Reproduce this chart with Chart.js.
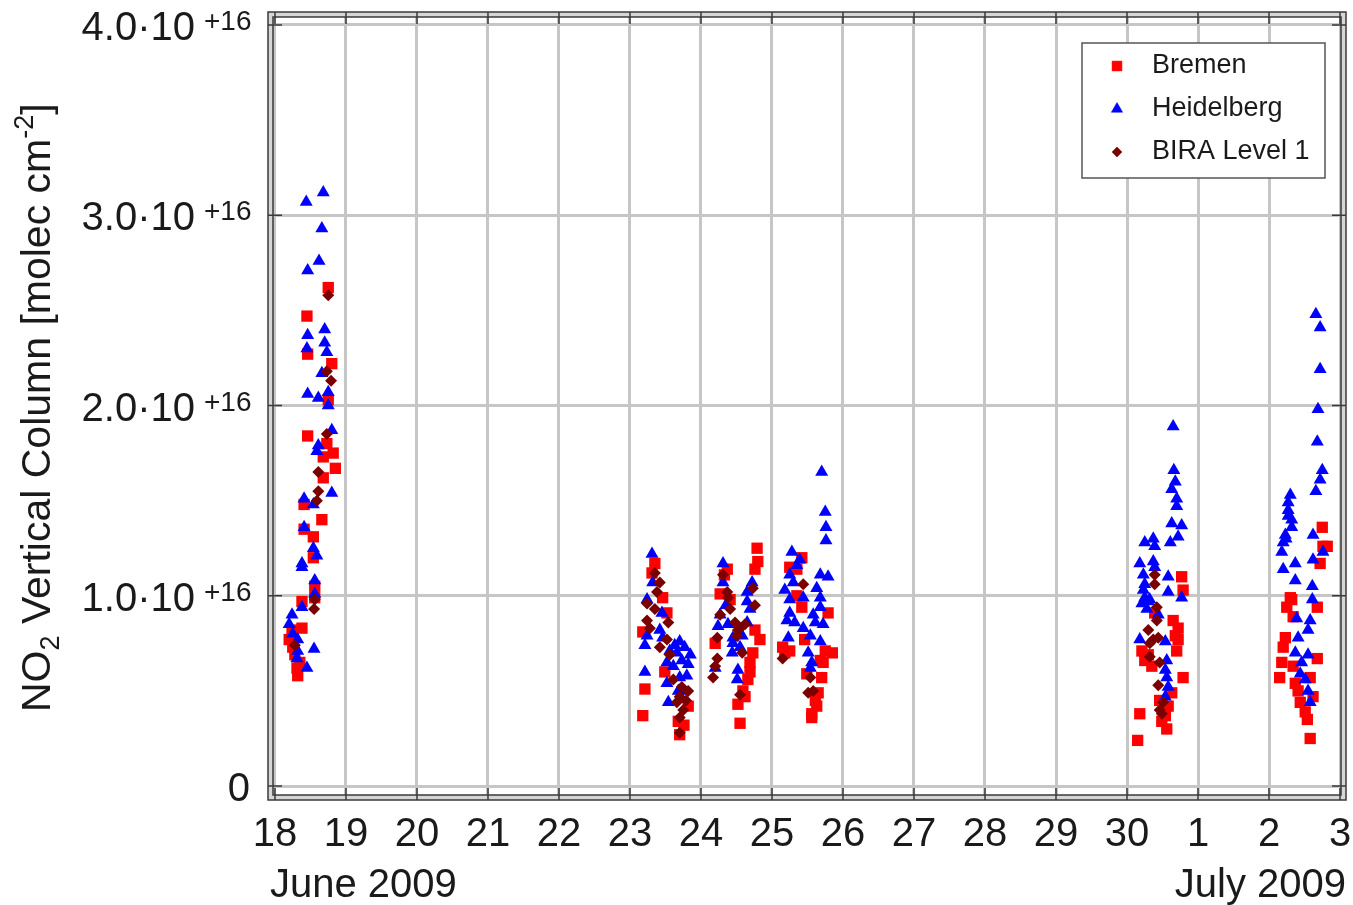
<!DOCTYPE html>
<html>
<head>
<meta charset="utf-8">
<title>NO2 Vertical Column</title>
<script src="https://cdn.jsdelivr.net/npm/chart.js@4.4.1/dist/chart.umd.min.js"></script>
<style>
  html, body { margin: 0; padding: 0; background: #fff; }
  canvas { display: block; }
</style>
</head>
<body>
<canvas id="no2Chart" width="1353" height="905"></canvas>
<script>
// x = day of June 2009 (July 1 = 31), y = vertical column in 10^16 molec cm^-2
const xTickValues = [18, 19, 20, 21, 22, 23, 24, 25, 26, 27, 28, 29, 30, 31, 32, 33];
const xTickLabels = ['18', '19', '20', '21', '22', '23', '24', '25', '26', '27', '28', '29', '30', '1', '2', '3'];
const yTickValues = [0, 1, 2, 3, 4];
const yTickMantissa = ['0', '1.0', '2.0', '3.0', '4.0'];
const yTickExponent = '+16';

const bremenPoints = [
    [18.75, 2.62], [18.45, 2.47], [18.46, 2.27], [18.80, 2.22], [18.75, 2.03], [18.46, 1.84], [18.73, 1.80],
    [18.82, 1.75], [18.68, 1.73], [18.85, 1.67], [18.68, 1.62], [18.41, 1.48], [18.66, 1.40], [18.41, 1.35],
    [18.54, 1.31], [18.54, 1.20], [18.56, 1.05], [18.56, 0.99], [18.38, 0.97], [18.38, 0.83], [18.24, 0.82],
    [18.20, 0.77], [18.25, 0.73], [18.28, 0.69], [18.35, 0.65], [18.31, 0.62], [18.32, 0.58],
    [23.35, 1.17], [23.31, 1.12], [23.46, 0.99], [23.52, 0.91], [23.18, 0.81], [23.49, 0.60], [23.21, 0.51],
    [23.82, 0.42], [23.18, 0.37], [23.68, 0.34], [23.76, 0.32], [23.70, 0.27],
    [24.79, 1.25], [24.80, 1.18], [24.76, 1.14], [24.37, 1.14], [24.33, 1.11], [24.27, 1.01], [24.41, 0.98],
    [24.76, 0.82], [24.83, 0.77], [24.20, 0.75], [24.73, 0.70], [24.69, 0.65], [24.69, 0.60], [24.66, 0.56],
    [24.59, 0.50], [24.62, 0.47], [24.52, 0.43], [24.55, 0.33],
    [25.42, 1.20], [25.25, 1.15], [25.35, 1.14], [25.35, 1.00], [25.42, 0.94], [25.79, 0.91], [25.46, 0.77],
    [25.15, 0.73], [25.25, 0.71], [25.18, 0.70], [25.75, 0.71], [25.85, 0.70], [25.68, 0.66], [25.72, 0.65],
    [25.49, 0.59], [25.70, 0.57], [25.65, 0.49], [25.61, 0.45], [25.63, 0.42], [25.56, 0.38], [25.56, 0.36],
    [30.77, 1.10], [30.79, 1.03], [30.39, 0.91], [30.65, 0.87], [30.72, 0.83], [30.68, 0.79], [30.72, 0.77],
    [30.21, 0.71], [30.70, 0.71], [30.30, 0.69], [30.25, 0.66], [30.35, 0.63], [30.79, 0.57], [30.63, 0.49],
    [30.46, 0.45], [30.58, 0.42], [30.18, 0.38], [30.54, 0.37], [30.49, 0.34], [30.56, 0.30], [30.15, 0.24],
    [32.75, 1.36], [32.82, 1.26], [32.76, 1.26], [32.72, 1.17], [32.30, 0.99], [32.32, 0.98], [32.25, 0.94],
    [32.68, 0.94], [32.34, 0.89], [32.23, 0.78], [32.20, 0.73], [32.68, 0.67], [32.18, 0.65], [32.34, 0.63],
    [32.15, 0.57], [32.58, 0.57], [32.37, 0.54], [32.41, 0.50], [32.62, 0.47], [32.44, 0.44], [32.51, 0.39],
    [32.54, 0.35], [32.58, 0.25]
];

const heidelbergPoints = [
    [18.68, 3.12], [18.44, 3.07], [18.66, 2.93], [18.62, 2.76], [18.46, 2.71], [18.70, 2.40], [18.46, 2.37],
    [18.70, 2.33], [18.45, 2.30], [18.73, 2.28], [18.66, 2.17], [18.75, 2.07], [18.46, 2.06], [18.61, 2.04],
    [18.75, 2.00], [18.80, 1.87], [18.61, 1.79], [18.59, 1.76], [18.80, 1.54], [18.41, 1.51], [18.54, 1.48],
    [18.41, 1.36], [18.54, 1.25], [18.59, 1.21], [18.38, 1.17], [18.38, 1.15], [18.56, 1.08], [18.56, 1.01],
    [18.38, 0.94], [18.24, 0.90], [18.20, 0.85], [18.25, 0.80], [18.32, 0.77], [18.55, 0.72], [18.32, 0.71],
    [18.31, 0.67], [18.45, 0.62],
    [23.31, 1.22], [23.32, 1.07], [23.24, 0.98], [23.45, 0.91], [23.42, 0.82], [23.24, 0.79], [23.46, 0.78],
    [23.70, 0.76], [23.21, 0.74], [23.63, 0.74], [23.77, 0.73], [23.56, 0.71], [23.66, 0.70], [23.85, 0.69],
    [23.73, 0.66], [23.52, 0.65], [23.82, 0.64], [23.61, 0.63], [23.21, 0.60], [23.80, 0.58], [23.70, 0.57],
    [23.52, 0.54], [23.75, 0.50], [23.68, 0.50], [23.54, 0.44],
    [24.31, 1.17], [24.31, 1.07], [24.72, 1.07], [24.65, 1.02], [24.65, 0.97], [24.35, 0.95], [24.69, 0.93],
    [24.27, 0.90], [24.65, 0.86], [24.38, 0.85], [24.24, 0.84], [24.58, 0.79], [24.45, 0.78], [24.45, 0.75],
    [24.55, 0.73], [24.44, 0.70], [24.20, 0.62], [24.52, 0.61], [24.51, 0.56],
    [25.70, 1.65], [25.75, 1.44], [25.76, 1.36], [25.76, 1.29], [25.28, 1.23], [25.39, 1.19], [25.35, 1.16],
    [25.25, 1.11], [25.68, 1.11], [25.79, 1.10], [25.30, 1.07], [25.63, 1.04], [25.18, 1.03], [25.68, 0.99],
    [25.44, 0.99], [25.25, 0.98], [25.68, 0.94], [25.25, 0.91], [25.58, 0.90], [25.21, 0.87], [25.32, 0.86],
    [25.61, 0.86], [25.72, 0.85], [25.44, 0.83], [25.54, 0.79], [25.23, 0.78], [25.68, 0.76], [25.51, 0.70],
    [25.56, 0.65], [25.54, 0.62],
    [30.65, 1.89], [30.66, 1.66], [30.68, 1.60], [30.63, 1.56], [30.70, 1.51], [30.70, 1.47], [30.63, 1.38],
    [30.77, 1.37], [30.72, 1.31], [30.37, 1.30], [30.61, 1.28], [30.25, 1.28], [30.39, 1.26], [30.37, 1.18],
    [30.18, 1.17], [30.39, 1.15], [30.23, 1.11], [30.58, 1.10], [30.25, 1.06], [30.23, 1.03], [30.58, 1.02],
    [30.77, 0.99], [30.25, 0.99], [30.32, 0.98], [30.30, 0.97], [30.21, 0.96], [30.28, 0.93], [30.44, 0.90],
    [30.18, 0.77], [30.54, 0.76], [30.56, 0.66], [30.54, 0.61], [30.56, 0.57], [30.58, 0.52], [30.54, 0.47],
    [32.66, 2.48], [32.72, 2.41], [32.72, 2.19], [32.69, 1.98], [32.68, 1.81], [32.75, 1.66], [32.72, 1.61],
    [32.66, 1.55], [32.30, 1.53], [32.27, 1.49], [32.27, 1.45], [32.27, 1.42], [32.32, 1.40], [32.32, 1.36],
    [32.23, 1.32], [32.62, 1.32], [32.24, 1.30], [32.20, 1.28], [32.18, 1.23], [32.76, 1.23], [32.62, 1.19],
    [32.37, 1.17], [32.20, 1.14], [32.37, 1.08], [32.61, 1.05], [32.61, 0.98], [32.39, 0.88], [32.58, 0.87],
    [32.55, 0.82], [32.41, 0.78], [32.37, 0.70], [32.55, 0.69], [32.46, 0.65], [32.44, 0.59], [32.51, 0.56],
    [32.55, 0.50], [32.58, 0.44]
];

const biraPoints = [
    [18.75, 2.58], [18.73, 2.18], [18.79, 2.13], [18.73, 1.85], [18.61, 1.65], [18.61, 1.55], [18.59, 1.50],
    [18.56, 0.98], [18.55, 0.93], [18.28, 0.74],
    [23.35, 1.12], [23.42, 1.07], [23.38, 1.02], [23.24, 0.96], [23.35, 0.93], [23.24, 0.87], [23.54, 0.86],
    [23.28, 0.83], [23.52, 0.77], [23.42, 0.73], [23.56, 0.69], [23.61, 0.56], [23.73, 0.52], [23.82, 0.50],
    [23.70, 0.47], [23.79, 0.45], [23.66, 0.44], [23.75, 0.40], [23.70, 0.36], [23.70, 0.28],
    [24.31, 1.11], [24.73, 1.04], [24.37, 1.02], [24.38, 0.99], [24.76, 0.95], [24.41, 0.93], [24.27, 0.90],
    [24.48, 0.86], [24.62, 0.85], [24.55, 0.83], [24.52, 0.82], [24.51, 0.79], [24.23, 0.78], [24.58, 0.70],
    [24.23, 0.67], [24.20, 0.63], [24.17, 0.57], [24.55, 0.48],
    [25.44, 1.06], [25.15, 0.67], [25.54, 0.57], [25.58, 0.50], [25.51, 0.49],
    [30.39, 1.11], [30.39, 1.06], [30.42, 0.94], [30.42, 0.87], [30.30, 0.82], [30.44, 0.78], [30.37, 0.77],
    [30.32, 0.75], [30.32, 0.68], [30.46, 0.65], [30.44, 0.53], [30.51, 0.44], [30.46, 0.40], [30.49, 0.38]
];

const FONT = "'Liberation Sans', Arimo, Helvetica, Arial, sans-serif";
const TEXT_COLOR = '#1a1a1a';

const toXY = pts => pts.map(p => ({ x: p[0], y: p[1] }));

// 坐标框、刻度、Y 轴文字、月份标签
const decorPlugin = {
    id: 'decor',
    afterDraw(chart) {
        const { ctx, chartArea: a, scales: { x, y } } = chart;
        const w = a.right - a.left, h = a.bottom - a.top, band = 5;
        ctx.save();

        // 双线外框
        ctx.beginPath();
        ctx.rect(a.left - band, a.top - band, w + 2 * band, h + 2 * band);
        ctx.rect(a.left, a.top, w, h);
        ctx.fillStyle = '#d6d6d6';
        ctx.fill('evenodd');
        ctx.strokeStyle = '#3a3a3a';
        ctx.lineWidth = 1.5;
        ctx.strokeRect(a.left - band, a.top - band, w + 2 * band, h + 2 * band);
        ctx.strokeRect(a.left, a.top, w, h);

        // 刻度线
        ctx.lineWidth = 1.5;
        ctx.beginPath();
        xTickValues.forEach(v => {
            const px = x.getPixelForValue(v);
            ctx.moveTo(px, a.bottom + band); ctx.lineTo(px, a.bottom - 7);
            ctx.moveTo(px, a.top - band); ctx.lineTo(px, a.top + 7);
        });
        yTickValues.forEach(v => {
            const py = y.getPixelForValue(v);
            ctx.moveTo(a.left - band, py); ctx.lineTo(a.left + 9, py);
            ctx.moveTo(a.right + band, py); ctx.lineTo(a.right - 9, py);
        });
        ctx.stroke();

        // Y 轴刻度标签 (带上标)
        ctx.fillStyle = TEXT_COLOR;
        ctx.textBaseline = 'alphabetic';
        yTickValues.forEach((v, i) => {
            const py = y.getPixelForValue(v);
            ctx.font = '40px ' + FONT;
            ctx.textAlign = 'right';
            if (v === 0) {
                ctx.fillText(yTickMantissa[i], 250, py + 15);
                return;
            }
            ctx.fillText(yTickMantissa[i] + '\u00b710', 195, py + 15);
            ctx.font = '28px ' + FONT;
            ctx.textAlign = 'left';
            ctx.fillText(yTickExponent, 204, py + 5);
        });

        // Y 轴标题
        ctx.save();
        ctx.translate(50, 712);
        ctx.rotate(-Math.PI / 2);
        ctx.textAlign = 'left';
        const parts = [
            { t: 'NO', size: 41, dy: 0 },
            { t: '2', size: 27, dy: 9 },
            { t: ' Vertical Column [molec cm', size: 41, dy: 0 },
            { t: '-2', size: 27, dy: -17 },
            { t: ']', size: 41, dy: 0 }
        ];
        let cx = 0;
        parts.forEach(p => {
            ctx.font = p.size + 'px ' + FONT;
            ctx.fillText(p.t, cx, p.dy);
            cx += ctx.measureText(p.t).width;
        });
        ctx.restore();

        // 月份标签
        ctx.font = '40px ' + FONT;
        ctx.textAlign = 'left';
        ctx.fillText('June 2009', x.getPixelForValue(18) - 5, 897);
        ctx.textAlign = 'right';
        ctx.fillText('July 2009', x.getPixelForValue(33) + 6, 897);

        ctx.restore();
    }
};

// 图例 (右上角方框)
const legendBoxPlugin = {
    id: 'legendBox',
    afterDraw(chart) {
        const { ctx } = chart;
        ctx.save();
        ctx.fillStyle = '#fff';
        ctx.fillRect(1082, 43, 243, 135);
        ctx.strokeStyle = '#555';
        ctx.lineWidth = 1.5;
        ctx.strokeRect(1082, 43, 243, 135);
        const rows = [66, 109, 152];
        const sizes = [7, 6.5, 5];
        chart.data.datasets.forEach((ds, i) => {
            ctx.fillStyle = ds.backgroundColor;
            ctx.strokeStyle = ds.backgroundColor;
            ctx.lineWidth = 0.5;
            Chart.helpers.drawPoint(ctx, { pointStyle: ds.pointStyle, radius: sizes[i], borderWidth: 0.5, rotation: 0 }, 1117, rows[i]);
            ctx.fillStyle = TEXT_COLOR;
            ctx.font = '27px ' + FONT;
            ctx.textAlign = 'left';
            ctx.textBaseline = 'middle';
            ctx.fillText(ds.label, 1152, rows[i]);
        });
        ctx.restore();
    }
};

const ctx = document.getElementById('no2Chart').getContext('2d');
new Chart(ctx, {
    type: 'scatter',
    data: {
        datasets: [
            {
                label: 'Bremen',
                data: toXY(bremenPoints),
                pointStyle: 'rect',
                pointRadius: 8,
                backgroundColor: '#ff0000',
                borderColor: '#ff0000',
                borderWidth: 0,
                order: 3
            },
            {
                label: 'Heidelberg',
                data: toXY(heidelbergPoints),
                pointStyle: 'triangle',
                pointRadius: 7.5,
                backgroundColor: '#0000ff',
                borderColor: '#0000ff',
                borderWidth: 0,
                order: 2
            },
            {
                label: 'BIRA Level 1',
                data: toXY(biraPoints),
                pointStyle: 'rectRot',
                pointRadius: 6,
                backgroundColor: '#7a0000',
                borderColor: '#7a0000',
                borderWidth: 0,
                order: 1
            }
        ]
    },
    options: {
        responsive: false,
        devicePixelRatio: 1,
        animation: false,
        events: [],
        layout: { padding: { top: 17, right: 12, left: 0, bottom: 0 } },
        plugins: {
            legend: { display: false },
            tooltip: { enabled: false }
        },
        scales: {
            x: {
                type: 'linear',
                min: 17.972,
                max: 33.014,
                afterBuildTicks: s => { s.ticks = xTickValues.map(v => ({ value: v })); },
                afterFit: s => { s.height = 110; s.paddingLeft = 0; s.paddingRight = 0; },
                grid: { color: '#c6c6c6', lineWidth: 3, drawTicks: false },
                border: { display: false },
                ticks: {
                    padding: 16,
                    color: TEXT_COLOR,
                    font: { size: 40, family: FONT },
                    maxRotation: 0,
                    autoSkip: false,
                    callback: (value, index) => xTickLabels[index]
                }
            },
            y: {
                type: 'linear',
                min: -0.047,
                max: 4.042,
                afterBuildTicks: s => { s.ticks = yTickValues.map(v => ({ value: v })); },
                afterFit: s => { s.width = 273; s.paddingTop = 0; s.paddingBottom = 0; },
                grid: { color: '#c6c6c6', lineWidth: 3, drawTicks: false },
                border: { display: false },
                ticks: { display: false }
            }
        }
    },
    plugins: [decorPlugin, legendBoxPlugin]
});
</script>
</body>
</html>
